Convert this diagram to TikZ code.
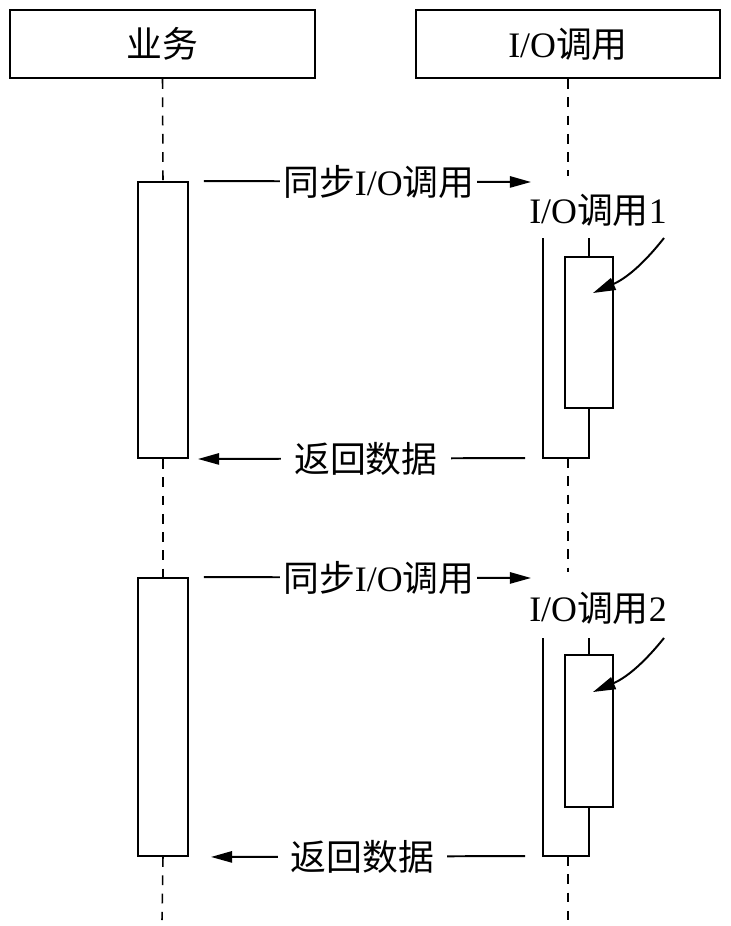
\documentclass[tikz,border=0pt]{standalone}
\usepackage{fontspec}
\setmainfont{Liberation Serif}
\newfontfamily\cjk{Noto Sans CJK SC}
\newcommand{\zh}[1]{{\cjk #1}}
\usetikzlibrary{arrows.meta, positioning, calc}

\begin{document}
\begin{tikzpicture}[
    x=0.025cm, y=-0.025cm,
    font=\fontsize{25.5}{30}\selectfont,
    head/.style={rectangle, draw, line width=1.4pt, minimum width=7.6cm, minimum height=1.7cm, inner sep=0pt},
    act/.style={rectangle, draw, fill=white, line width=1.4pt, minimum width=1.25cm, inner sep=0pt},
    call/.style={rectangle, draw, fill=white, line width=1.4pt, minimum width=1.2cm, inner sep=0pt},
    life/.style={line width=1.1pt, dash pattern=on 7pt off 6pt},
    frame/.style={line width=1.4pt},
    msg/.style={-{Triangle[length=15pt, width=8pt]}, line width=1.4pt},
    lbl/.style={fill=white, inner xsep=2pt, inner ysep=0pt},
    callout/.style={-{Triangle[length=16pt, width=9pt]}, line width=1.4pt}
]
    \useasboundingbox (0,0) rectangle (730,926);

    % Headers
    \node[head] (biz) at (162.5,44) {\zh{业务}};
    \node[head] (io) at (568,44) {I/O\zh{调用}};

    % Activations
    \node[act, minimum height=6.9cm] (b1) at (163,320) {};
    \node[act, minimum height=6.95cm] (b2) at (163,717) {};
    \node[call, minimum height=3.775cm] (io1) at (589,332.5) {};
    \node[call, minimum height=3.8cm] (io2) at (589,731) {};

    % Helper points
    \coordinate (u1) at (543,238);
    \coordinate (u1b) at (543,458);
    \coordinate (u2) at (543,638);
    \coordinate (u2b) at (543,856);
    \coordinate (r1) at (568,176);
    \coordinate (r2) at (568,572);
    \coordinate (lend) at (162,920);
    \coordinate (rend) at (568,920);
    \coordinate (s1) at (531,182);
    \coordinate (s2) at (531,578);

    % Lifelines
    \draw[life] (biz.south) -- (b1.north);
    \draw[life] (b1.south) -- (b2.north);
    \draw[life] (b2.south) -- (lend);
    \draw[life] (io.south) -- (r1);
    \draw[life] (568,458) -- (r2);
    \draw[life] (568,856) -- (rend);

    % Call frames
    \draw[frame] (u1) -- (u1b) -| (io1.south);
    \draw[frame] (io1.north) -- (io1.north |- u1);
    \draw[frame] (u2) -- (u2b) -| (io2.south);
    \draw[frame] (io2.north) -- (io2.north |- u2);

    % Labels
    \node (n1) at (598,210) {I/O\zh{调用}1};
    \node (n2) at (598,608) {I/O\zh{调用}2};

    % Messages
    \draw[msg, shorten <=0.375cm] (b1.north east) -- node[lbl, pos=0.555] {\zh{同步}I/O\zh{调用}} (s1);
    \draw[msg, shorten <=0.45cm, shorten >=0.225cm] (u1b) -- node[lbl, inner xsep=0.33cm, pos=0.5] {\zh{返回数据}} (b1.south east);
    \draw[msg, shorten <=0.375cm] (b2.north east) -- node[lbl, pos=0.555] {\zh{同步}I/O\zh{调用}} (s2);
    \draw[msg, shorten <=0.45cm, shorten >=0.55cm] (u2b) -- node[lbl, inner xsep=0.33cm, pos=0.51] {\zh{返回数据}} (b2.south east);

    % Callouts
    \coordinate (c1) at (664,238);
    \coordinate (t1) at (593,293);
    \coordinate (c2) at (664,638);
    \coordinate (t2) at (593,692);
    \draw[callout] (c1) to[bend left=14] (t1);
    \draw[callout] (c2) to[bend left=14] (t2);
\end{tikzpicture}
\end{document}
